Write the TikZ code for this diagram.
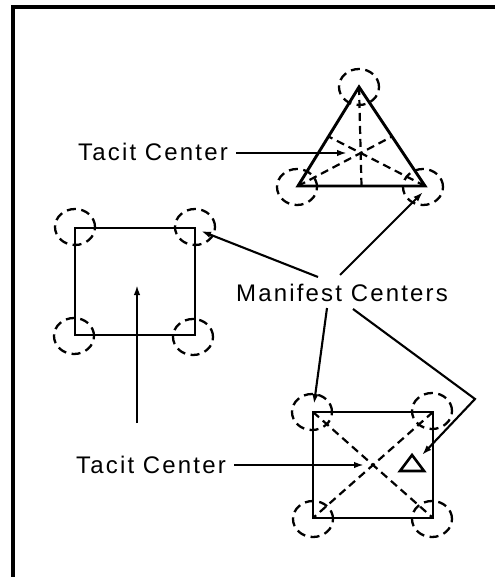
\documentclass[tikz,border=0pt]{standalone}
\usepackage{fontspec}
\setmainfont{Liberation Sans}[LetterSpace=9.0]
\usetikzlibrary{arrows.meta,calc}
\begin{document}
\begin{tikzpicture}[x=1pt,y=-1pt,
  edge/.style={line width=2.9pt, line cap=round, line join=miter},
  guide/.style={line width=2.2pt, dash pattern=on 8pt off 5pt},
  ring/.style={line width=2.3pt, dash pattern=on 9pt off 5.5pt},
  pointer/.style={line width=2.1pt, -{Latex[length=10pt,width=6.5pt]}},
  label/.style={inner sep=0pt, anchor=base west, font=\fontsize{24}{28}\selectfont}]
\useasboundingbox (0,0) rectangle (495,577);

% outer frame: left and top sides
\draw[line width=3.2pt] (13,577) -- (13,7) -- (495,7);

% ---------- triangle ----------
\coordinate (tA) at (359,87);
\coordinate (tL) at (298,186);
\coordinate (tR) at (425,186);
\draw[edge] (tA) -- (tL) -- (tR) -- cycle;
\draw[guide] (tA) -- ($(tL)!0.5!(tR)$);
\draw[guide] (tL) -- ($(tA)!0.5!(tR)$);
\draw[guide] (tR) -- ($(tA)!0.5!(tL)$);
\foreach \q in {{359,87},{297,187},{423,187}}
  \draw[ring] (\q) ellipse [x radius=20pt, y radius=18pt];

% ---------- plain square ----------
\coordinate (s1) at (75,228);
\coordinate (s2) at (195,228);
\coordinate (s3) at (195,335);
\coordinate (s4) at (75,335);
\draw[edge] (s1) -- (s2) -- (s3) -- (s4) -- cycle;
\foreach \q in {{75,227},{195,227},{74,336},{193,337}}
  \draw[ring] (\q) ellipse [x radius=20pt, y radius=18pt];
\coordinate (up0) at (137,423);
\coordinate (up1) at (137,285);
\draw[pointer] (up0) -- (up1);

% ---------- square with diagonals ----------
\coordinate (q1) at (313,412);
\coordinate (q2) at (433,412);
\coordinate (q3) at (433,518);
\coordinate (q4) at (313,518);
\draw[edge] (q1) -- (q2) -- (q3) -- (q4) -- cycle;
\draw[guide] (q1) -- (q3);
\draw[guide] (q2) -- (q4);
\foreach \q in {{312,412},{432,411},{313,519},{432,519}}
  \draw[ring] (\q) ellipse [x radius=20pt, y radius=18pt];
\coordinate (d1) at (400,471);
\coordinate (d2) at (424,471);
\coordinate (d3) at (412,455);
\draw[line width=2.6pt, line join=miter] (d1) -- (d2) -- (d3) -- cycle;

% ---------- labels ----------
\node[label] (tc1) at (78,161) {Tacit Center};
\node[label] (tc2) at (76,473) {Tacit Center};
\node[label] (mc) at (236,301) {Manifest Centers};

\coordinate (tcStart1) at (236,153);
\coordinate (tcEnd1) at (347,153);
\coordinate (tcStart2) at (234,465);
\coordinate (tcEnd2) at (364,465);
\draw[pointer] (tcStart1) -- (tcEnd1);
\draw[pointer] (tcStart2) -- (tcEnd2);

% manifest-center pointers
\coordinate (m1) at (318,277);
\coordinate (m2) at (340,275);
\coordinate (m3) at (327,308);
\coordinate (m4) at (353,309);
\coordinate (bend) at (475,399);
\draw[pointer] (m1) -- (201,231);
\draw[pointer] (m2) -- (423,192);
\draw[pointer] (m3) -- (314,404);
\draw[pointer] (m4) -- (bend) -- (422,455);
\end{tikzpicture}
\end{document}
